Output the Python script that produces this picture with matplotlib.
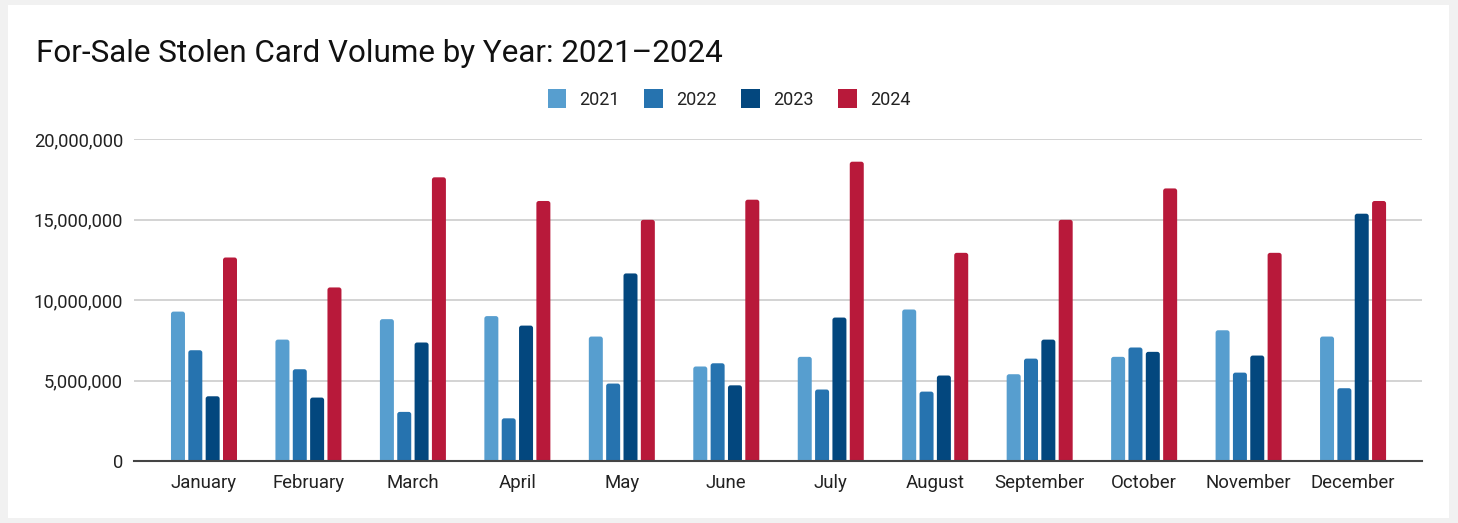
import numpy as np
import matplotlib.pyplot as plt
from matplotlib.patches import Rectangle, FancyBboxPatch
from matplotlib.ticker import FuncFormatter

plt.rcParams['font.family'] = ['Roboto', 'DejaVu Sans']

# Data
months = ["January", "February", "March", "April", "May", "June",
          "July", "August", "September", "October", "November", "December"]
years = ["2021", "2022", "2023", "2024"]
v2021 = [9.28, 7.54, 8.81, 9.00, 7.73, 5.87, 6.47, 9.41, 5.39, 6.47, 8.12, 7.73]
v2022 = [6.88, 5.70, 3.05, 2.65, 4.81, 6.07, 4.44, 4.31, 6.36, 7.05, 5.49, 4.52]
v2023 = [4.02, 3.94, 7.36, 8.41, 11.65, 4.70, 8.91, 5.31, 7.54, 6.78, 6.55, 15.36]
v2024 = [12.64, 10.78, 17.62, 16.15, 14.98, 16.23, 18.59, 12.93, 14.98, 16.93, 12.93, 16.15]
colors = ["#579ecf", "#2673af", "#03477e", "#b8193a"]

series = [np.array(v) * 1e6 for v in (v2021, v2022, v2023, v2024)]

fig = plt.figure(figsize=(14.58, 5.23), dpi=100, facecolor="#f1f1f1")
fig.add_artist(Rectangle((8 / 1458, 5 / 523), 1441 / 1458, 513 / 523,
                         transform=fig.transFigure, facecolor="white",
                         edgecolor="none", zorder=-10))

ax = fig.add_axes([134 / 1458, 62 / 523, 1288 / 1458, 322 / 523])
ax.set_facecolor("none")
ax.set_xlim(-0.67, 11.66)
ax.set_ylim(0, 20e6)

x = np.arange(len(months))
pitch = 0.166
width = 0.134
# aspect between data units per pixel in y and in x, for round bar tops
xlim, ylim = ax.get_xlim(), ax.get_ylim()
aspect = ((ylim[1] - ylim[0]) / 322) / ((xlim[1] - xlim[0]) / 1288)
rad = 2.5 * (xlim[1] - xlim[0]) / 1288
for i, (vals, yr, c) in enumerate(zip(series, years, colors)):
    bars = ax.bar(x + (i - 1.5) * pitch, vals, width, color=c, label=yr, zorder=3)
    for b in bars:
        b.set_visible(False)
        ax.add_patch(FancyBboxPatch((b.get_x(), -3 * aspect * rad / 2.5), b.get_width(),
                                    b.get_height() + 3 * aspect * rad / 2.5,
                                    boxstyle=f"round,pad=0,rounding_size={rad}",
                                    mutation_aspect=aspect, facecolor=c,
                                    edgecolor="none", zorder=3))

ax.set_yticks(np.arange(0, 20e6 + 1, 5e6))
ax.yaxis.set_major_formatter(FuncFormatter(lambda v, p: f"{int(v):,}"))
ax.set_xticks(x)
ax.set_xticklabels(months, va="baseline")
ax.tick_params(axis="y", length=0, labelsize=13.2, colors="#222222", pad=8)
ax.tick_params(axis="x", length=0, labelsize=13.4, colors="#222222", pad=19.4)

ax.grid(axis="y", color="#cccccc", linewidth=1.2, zorder=0)
for s in ["top", "right", "left"]:
    ax.spines[s].set_visible(False)
ax.spines["bottom"].set_color("#444444")
ax.spines["bottom"].set_linewidth(1.5)
ax.spines["bottom"].set_zorder(4)

fig.text(36 / 1458, 1 - 53 / 523, "For-Sale Stolen Card Volume by Year: 2021\u20132024",
         fontsize=22.6, color="#111111", va="center", ha="left")

leg = fig.legend(loc="center", bbox_to_anchor=(729 / 1458, 1 - 99 / 523), ncol=4,
                 frameon=False, fontsize=13, handlelength=1.05, handleheight=1.24,
                 handletextpad=0.72, columnspacing=1.35, labelcolor="#222222")
for h in leg.legend_handles:
    h.set_visible(True)

fig.savefig("out.png", dpi=100, facecolor=fig.get_facecolor())
